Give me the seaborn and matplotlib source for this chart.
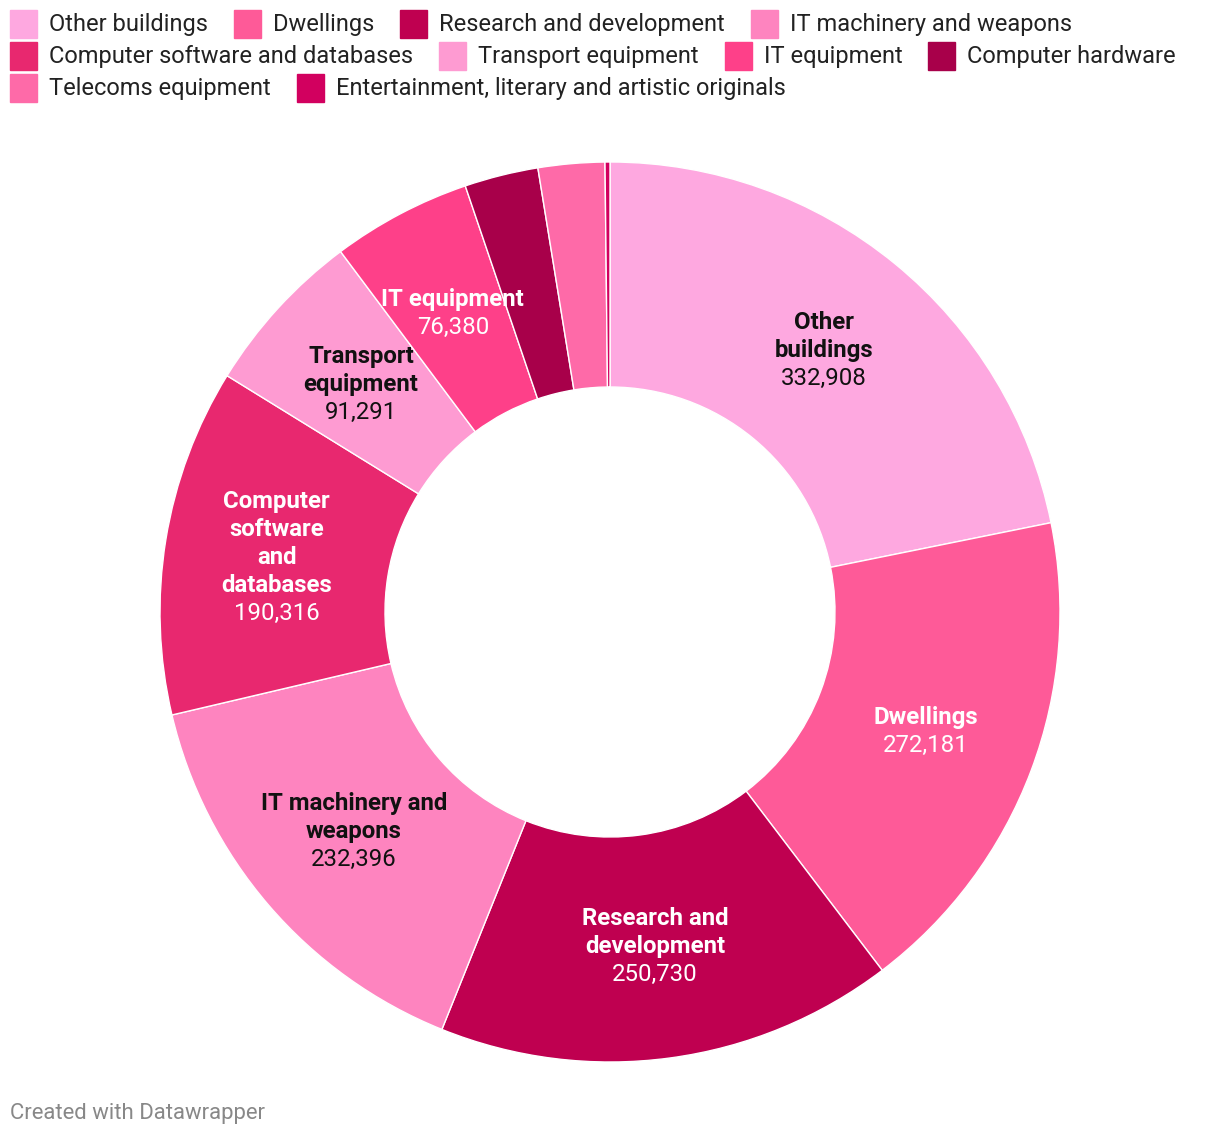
import matplotlib
matplotlib.use("Agg")
import matplotlib.pyplot as plt
from matplotlib.patches import Rectangle
import numpy as np
import seaborn as sns

# data, clockwise from 12 o'clock
categories = [
    "Other buildings", "Dwellings", "Research and development",
    "IT machinery and weapons", "Computer software and databases",
    "Transport equipment", "IT equipment", "Computer hardware",
    "Telecoms equipment", "Entertainment, literary and artistic originals",
]
values = [332908, 272181, 250730, 232396, 190316, 91291, 76380, 40400, 36400, 2700]
slice_names = [
    "Other\nbuildings", "Dwellings", "Research and\ndevelopment",
    "IT machinery and\nweapons", "Computer\nsoftware\nand\ndatabases",
    "Transport\nequipment", "IT equipment", None, None, None,
]
colors = [
    "#fea8e0", "#fe5a98", "#bf0050", "#fe84bf", "#e8286f",
    "#fe9bd2", "#fe4089", "#a8004a", "#fe6aa8", "#d2005f",
]
label_colors = ["#111111", "white", "white", "#111111", "white",
                "#111111", "white", None, None, None]
legend_rows = [[0, 1, 2, 3], [4, 5, 6, 7], [8, 9]]

sns.set_theme(style="white")
plt.rcParams['font.family'] = ['Roboto', 'DejaVu Sans']

W, H = 1220, 1138
fig = plt.figure(figsize=(W / 100, H / 100), dpi=100)
fig.patch.set_facecolor("white")

# donut: center (610, 612), radius 450 px
R = 450
ax = fig.add_axes([(610 - R) / W, (H - 612 - R) / H, 2 * R / W, 2 * R / H])
wedges, _ = ax.pie(
    values, colors=colors, startangle=90, counterclock=False, radius=1,
    wedgeprops=dict(width=0.5, edgecolor="white", linewidth=1),
)
ax.set_xlim(-1, 1)
ax.set_ylim(-1, 1)
ax.set_aspect("equal")
ax.axis("off")

line_h = 28 / R
for w, name, val, tc in zip(wedges, slice_names, values, label_colors):
    if name is None:
        continue
    th = np.deg2rad((w.theta1 + w.theta2) / 2)
    cx, cy = 0.75 * np.cos(th), 0.75 * np.sin(th)
    lines = name.split("\n")
    n = len(lines) + 1
    for i, ln in enumerate(lines):
        ax.text(cx, cy + ((n - 1) / 2 - i) * line_h, ln, ha="center", va="center",
                fontsize=17.3, fontweight="bold", color=tc)
    ax.text(cx, cy + ((n - 1) / 2 - (n - 1)) * line_h, f"{val:,}", ha="center",
            va="center", fontsize=17.3, color=tc)

# legend, laid out as flowing rows
fig.canvas.draw()
renderer = fig.canvas.get_renderer()
for r, row in enumerate(legend_rows):
    x = 10
    yc = 24 + 32 * r
    for idx in row:
        fig.patches.append(Rectangle((x / W, (H - yc - 14) / H), 27 / W, 28 / H,
                                     transform=fig.transFigure, color=colors[idx]))
        t = fig.text((x + 39) / W, (H - yc) / H, categories[idx], ha="left",
                     va="center", fontsize=17, color="#222222")
        bb = t.get_window_extent(renderer)
        x = x + 39 + bb.width + 26

fig.text(10 / W, (H - 1114) / H, "Created with Datawrapper", ha="left",
         va="center", fontsize=15.9, color="#888888")

fig.savefig("out.png", dpi=100, facecolor="white")
